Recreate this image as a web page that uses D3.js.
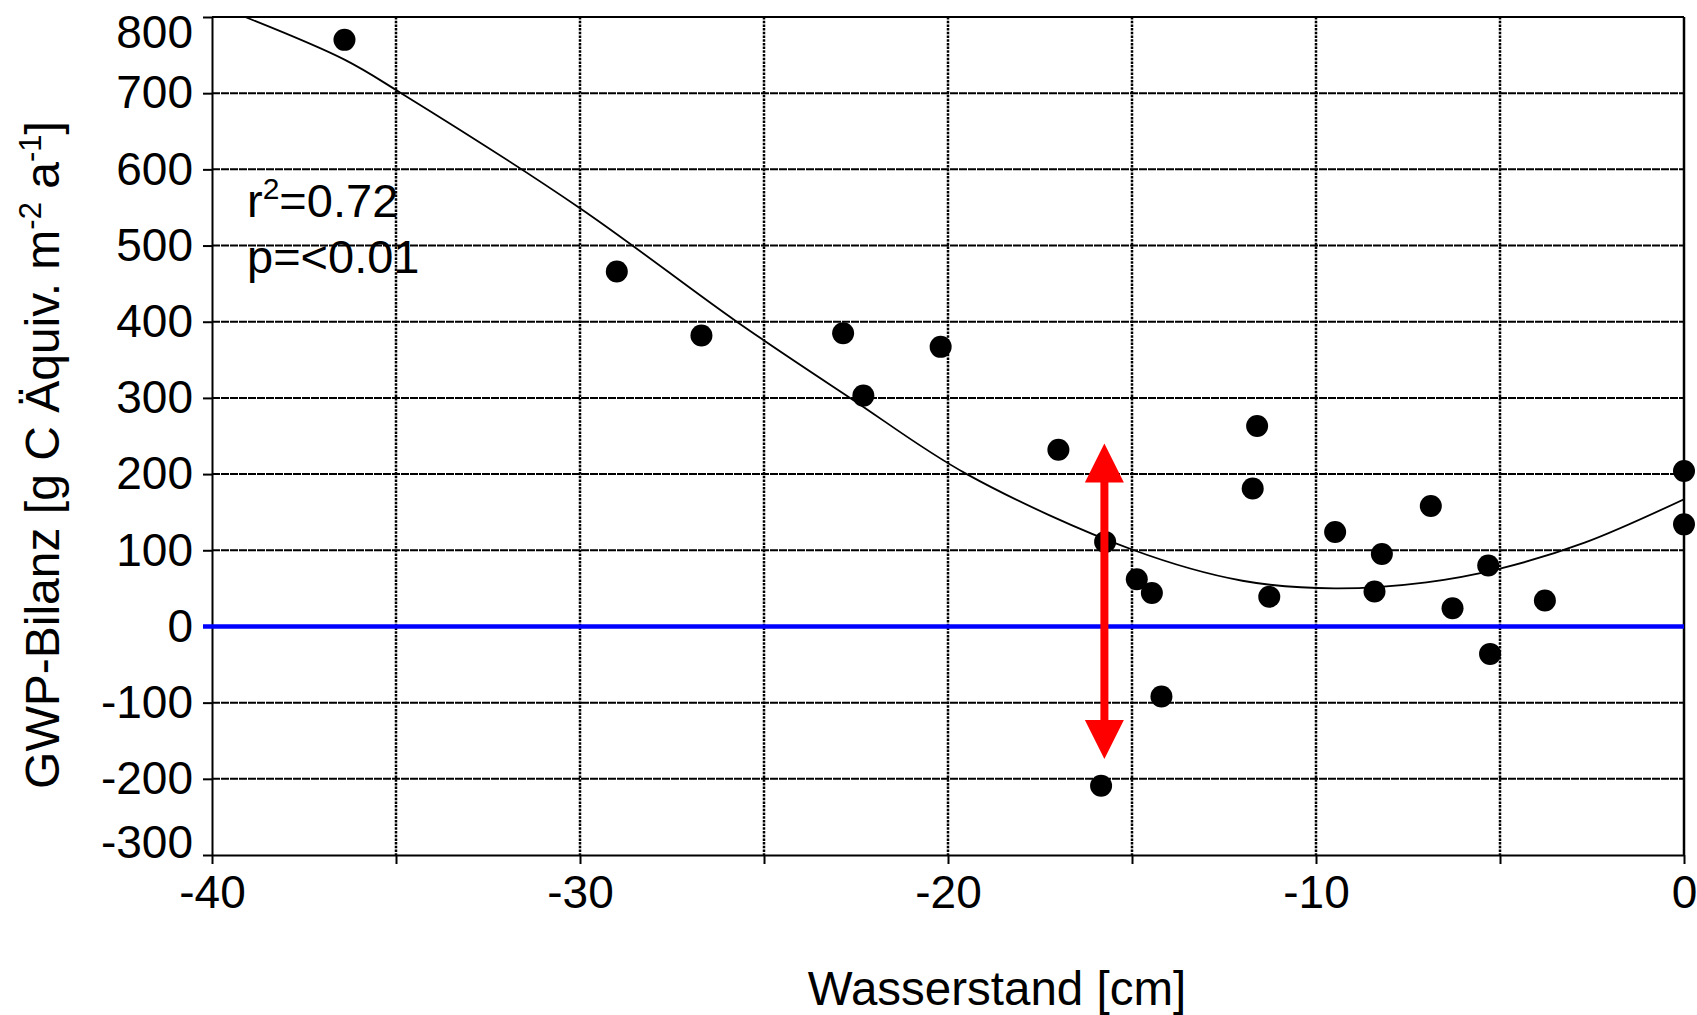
<!DOCTYPE html>
<html lang="de">
<head>
  <meta charset="UTF-8">
  <script src="https://d3js.org/d3.v7.min.js"></script>
  <title>GWP-Bilanz und Wasserstand</title>
  <style>
    body { margin: 0; background: #fff; }
    svg { display: block; font-family: "Liberation Sans", Arial, sans-serif; }
    .tick text { font-size: 46px; fill: #000; }
    .axis path, .axis line { stroke: #000; stroke-width: 2; }
    .dot { fill: #000; }
  </style>
</head>
<body>
  <div id="chart"></div>
  <script>
    // Messpunkte: Wasserstand [cm] / GWP-Bilanz [g C Äquiv. m-2 a-1]
    const waterLevel = [-36.4, -29.0, -26.7, -22.85, -22.3, -20.2, -17.0, -15.73, -14.87, -14.46,
                        -14.2, -15.84, -11.6, -11.72, -11.27, -9.48, -8.41, -8.21, -6.88, -6.29,
                        -5.32, -5.27, -3.78, 0.0, 0.0];
    const gwp = [770, 466, 382, 385, 303, 367, 232, 111, 62, 44,
                 -92, -209, 263, 181, 39, 124, 46, 95, 158, 24,
                 80, -36, 34, 204, 134];

    // Regressionskurve
    const fitX = [-39.1, -36.4, -34.86, -30, -25.74, -22.66, -19.49, -15, -12, -9.5, -7, -5, -2.7, 0];
    const fitY = [800, 744, 700, 549, 400, 300, 200, 101, 60, 50, 58, 76, 110, 167];

    const xTicks = [-40, -35, -30, -25, -20, -15, -10, -5, 0];
    const yTicks = [-300, -200, -100, 0, 100, 200, 300, 400, 500, 600, 700, 800];

    // roter Doppelpfeil
    const arrowX = -15.75;
    const arrowTop = 240;
    const arrowBottom = -174;

    const margin = { top: 17, right: 13, bottom: 160, left: 212 };
    const width = 1472;
    const height = 838;

    const svgRoot = d3.select("#chart")
      .append("svg")
      .attr("width", 1697)
      .attr("height", 1015);

    const svg = svgRoot.append("g")
      .attr("transform", `translate(${margin.left},${margin.top})`);

    const x = d3.scaleLinear().domain([-40, 0]).range([0, width]);
    const y = d3.scaleLinear().domain([-300, 800]).range([height, 0]);

    // Gitterlinien
    svg.append("g")
      .selectAll("line")
      .data(yTicks.filter(d => d !== 0 && d !== -300 && d !== 800))
      .enter()
      .append("line")
      .attr("x1", 0).attr("x2", width)
      .attr("y1", d => y(d)).attr("y2", d => y(d))
      .attr("stroke", "#000")
      .attr("stroke-width", 2)
      .attr("stroke-dasharray", "8,1");

    svg.append("g")
      .selectAll("line")
      .data(xTicks.filter(d => d !== -40 && d !== 0))
      .enter()
      .append("line")
      .attr("x1", d => x(d)).attr("x2", d => x(d))
      .attr("y1", 0).attr("y2", height)
      .attr("stroke", "#000")
      .attr("stroke-width", 2.5)
      .attr("stroke-dasharray", "2.5,1.2");

    // Rahmen oben / rechts
    svg.append("line")
      .attr("x1", 0).attr("x2", width).attr("y1", 0).attr("y2", 0)
      .attr("stroke", "#000").attr("stroke-width", 2);
    svg.append("line")
      .attr("x1", width).attr("x2", width).attr("y1", 0).attr("y2", height)
      .attr("stroke", "#000").attr("stroke-width", 2.5);

    // Achsen
    const xAxis = d3.axisBottom(x)
      .tickValues(xTicks)
      .tickFormat(d => d % 10 === 0 ? String(d) : "")
      .tickSize(9)
      .tickSizeOuter(0)
      .tickPadding(11);

    const yAxis = d3.axisLeft(y)
      .tickValues(yTicks)
      .tickFormat(d => String(d))
      .tickSize(9)
      .tickSizeOuter(0)
      .tickPadding(10);

    svg.append("g")
      .attr("class", "axis")
      .attr("transform", `translate(0,${height})`)
      .call(xAxis);

    const yG = svg.append("g")
      .attr("class", "axis")
      .call(yAxis);

    // Randbeschriftungen nach innen geschoben
    yG.selectAll(".tick text")
      .attr("dy", d => d === 800 ? "0.66em" : d === -300 ? "0.06em" : "0.32em");

    // Nulllinie
    svg.append("line")
      .attr("x1", -9).attr("x2", width)
      .attr("y1", y(0)).attr("y2", y(0))
      .attr("stroke", "#0000ff")
      .attr("stroke-width", 4.5);

    // Kurve
    svg.append("defs").append("clipPath")
      .attr("id", "plotclip")
      .append("rect")
      .attr("width", width).attr("height", height);

    const line = d3.line()
      .x(d => x(d[0]))
      .y(d => y(d[1]))
      .curve(d3.curveCatmullRom);

    svg.append("path")
      .datum(fitX.map((v, i) => [v, fitY[i]]))
      .attr("clip-path", "url(#plotclip)")
      .attr("fill", "none")
      .attr("stroke", "#000")
      .attr("stroke-width", 1.8)
      .attr("d", line);

    // Punkte
    svg.selectAll(".dot")
      .data(waterLevel.map((v, i) => [v, gwp[i]]))
      .enter()
      .append("circle")
      .attr("class", "dot")
      .attr("cx", d => x(d[0]))
      .attr("cy", d => y(d[1]))
      .attr("r", 11);

    // Pfeil
    const ax = x(arrowX), aTop = y(arrowTop), aBot = y(arrowBottom);
    const headLen = 39, headHalf = 19.5;
    svg.append("line")
      .attr("x1", ax).attr("x2", ax)
      .attr("y1", aTop + headLen - 2).attr("y2", aBot - headLen + 2)
      .attr("stroke", "#ff0000")
      .attr("stroke-width", 8);
    svg.append("path")
      .attr("fill", "#ff0000")
      .attr("d", `M${ax},${aTop} L${ax + headHalf},${aTop + headLen} L${ax - headHalf},${aTop + headLen} Z`);
    svg.append("path")
      .attr("fill", "#ff0000")
      .attr("d", `M${ax},${aBot} L${ax + headHalf},${aBot - headLen} L${ax - headHalf},${aBot - headLen} Z`);

    // Statistik
    const stats = svgRoot.append("g")
      .attr("font-size", 47)
      .attr("fill", "#000");
    const r2 = stats.append("text").attr("x", 247).attr("y", 217);
    r2.append("tspan").text("r");
    r2.append("tspan").attr("font-size", 30).attr("dy", -18).text("2");
    r2.append("tspan").attr("dy", 18).text("=0.72");
    stats.append("text").attr("x", 247).attr("y", 273).text("p=<0.01");

    // Achsentitel
    svgRoot.append("text")
      .attr("x", 997)
      .attr("y", 1005)
      .attr("text-anchor", "middle")
      .attr("font-size", 47.5)
      .text("Wasserstand [cm]");

    const yt = svgRoot.append("text")
      .attr("transform", "translate(59,455) rotate(-90)")
      .attr("text-anchor", "middle")
      .attr("font-size", 48);
    yt.append("tspan").text("GWP-Bilanz [g C Äquiv. m");
    yt.append("tspan").attr("font-size", 31).attr("dy", -18).text("-2");
    yt.append("tspan").attr("dy", 18).text(" a");
    yt.append("tspan").attr("font-size", 31).attr("dy", -18).text("-1");
    yt.append("tspan").attr("dy", 18).text("]");
  </script>
</body>
</html>
